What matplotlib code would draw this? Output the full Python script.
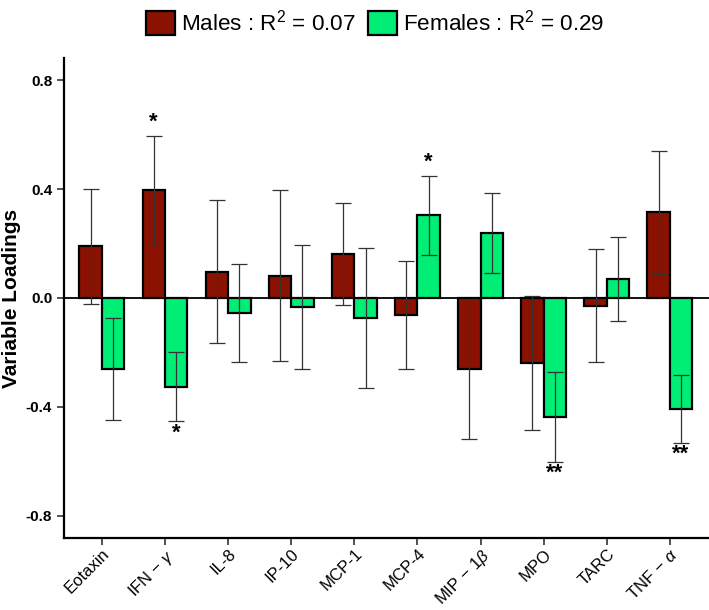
import matplotlib
matplotlib.use("Agg")
import matplotlib.pyplot as plt
import numpy as np
from matplotlib.patches import Patch

plt.rcParams['font.family'] = ['Liberation Sans', 'DejaVu Sans']
plt.rcParams['mathtext.fontset'] = 'custom'
plt.rcParams['mathtext.rm'] = 'Liberation Sans'
plt.rcParams['mathtext.it'] = 'Liberation Sans:italic'
plt.rcParams['mathtext.bf'] = 'Liberation Sans:bold'

categories = ['Eotaxin', r'IFN$\,-\,\gamma$', 'IL-8', 'IP-10', 'MCP-1', 'MCP-4',
              r'MIP$\,-\,$1$\beta$', 'MPO', 'TARC', r'TNF$\,-\,\alpha$']
males = [0.189, 0.395, 0.097, 0.082, 0.161, -0.062, -0.259, -0.239, -0.028, 0.314]
males_se = [0.210, 0.200, 0.262, 0.313, 0.188, 0.197, 0.257, 0.246, 0.207, 0.226]
females = [-0.262, -0.325, -0.054, -0.033, -0.073, 0.303, 0.239, -0.437, 0.070, -0.406]
females_se = [0.187, 0.127, 0.180, 0.226, 0.257, 0.146, 0.147, 0.164, 0.155, 0.125]
male_stars = ['', '*', '', '', '', '', '', '', '', '']
female_stars = ['', '*', '', '', '', '*', '', '**', '', '**']
legend_labels = [r'Males : R$^2$ = 0.07', r'Females : R$^2$ = 0.29']
yticks = [-0.8, -0.4, 0.0, 0.4, 0.8]

male_color = '#8B1100'
female_color = '#00EE76'

fig = plt.figure(figsize=(7.09, 6.10), dpi=100)
ax = fig.add_axes([0.0903, 0.118, 0.9097, 0.787])

x = np.arange(1, len(categories) + 1)
w = 0.355
xm = x - w / 2
xf = x + w / 2

ax.axhline(0, color='black', lw=1.3, zorder=1)
ax.bar(xm, males, width=w, color=male_color, edgecolor='black', linewidth=1.6, zorder=2)
ax.bar(xf, females, width=w, color=female_color, edgecolor='black', linewidth=1.6, zorder=2)
ax.errorbar(xm, males, yerr=males_se, fmt='none', ecolor='#333333', elinewidth=0.9,
            capsize=6, capthick=0.9, zorder=3)
ax.errorbar(xf, females, yerr=females_se, fmt='none', ecolor='#333333', elinewidth=0.9,
            capsize=6, capthick=0.9, zorder=3)

def put_star(xp, val, se, s):
    if not s:
        return
    if val >= 0:
        ax.text(xp, val + se + 0.01, s, ha='center', va='bottom', fontsize=16,
                fontweight='bold', zorder=4)
    else:
        ax.text(xp, val - se - 0.005, s, ha='center', va='top', fontsize=16,
                fontweight='bold', zorder=4)

for i in range(len(categories)):
    put_star(xm[i], males[i], males_se[i], male_stars[i])
    put_star(xf[i], females[i], females_se[i], female_stars[i])

ax.set_xlim(0.4, 10.62)
ax.set_ylim(-0.881, 0.881)
ax.set_xticks(x)
ax.set_xticklabels(categories, rotation=45, ha='right', rotation_mode='anchor', fontsize=12)
ax.set_yticks(yticks)
ax.set_yticklabels([f'{v:.1f}' for v in yticks], fontweight='bold', fontsize=11)
ax.set_ylabel('Variable Loadings', fontsize=15, fontweight='bold')
ax.yaxis.set_label_coords(-0.066, 0.5)

for sp in ['top', 'right']:
    ax.spines[sp].set_visible(False)
for sp in ['left', 'bottom']:
    ax.spines[sp].set_linewidth(1.6)
ax.tick_params(axis='both', direction='out', length=5, width=1.2, color='#333333')
ax.tick_params(axis='x', pad=1)

handles = [Patch(facecolor=male_color, edgecolor='black', linewidth=1.6),
           Patch(facecolor=female_color, edgecolor='black', linewidth=1.6)]
fig.legend(handles, legend_labels, loc='upper center', bbox_to_anchor=(0.529, 1.014),
           ncol=2, frameon=False, fontsize=16.2, handlelength=1.3, handleheight=1.25,
           handletextpad=0.25, columnspacing=0.55, borderpad=0.3)

fig.savefig('out.png', dpi=100)
